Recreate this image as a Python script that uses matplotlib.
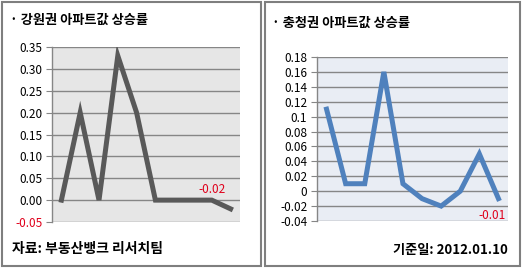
import numpy as np
import matplotlib
matplotlib.use('Agg')
import matplotlib.pyplot as plt
from matplotlib.patches import Rectangle

plt.rcParams['font.family'] = ['Noto Sans CJK KR', 'DejaVu Sans']

# 데이터
gw_title = '· 강원권 아파트값 상승률'
gw_vals = [0, 0.2, 0, 0.33, 0.2, 0, 0, 0, 0, -0.02]
gw_ticks = [-0.05, 0, 0.05, 0.10, 0.15, 0.20, 0.25, 0.30, 0.35]
gw_ticklabels = ['-0.05', '0.00', '0.05', '0.10', '0.15', '0.20', '0.25', '0.30', '0.35']

cc_title = '· 충청권 아파트값 상승률'
cc_vals = [0.11, 0.01, 0.01, 0.16, 0.01, -0.01, -0.02, 0, 0.05, -0.01]
cc_ticks = [-0.04, -0.02, 0, 0.02, 0.04, 0.06, 0.08, 0.1, 0.12, 0.14, 0.16, 0.18]
cc_ticklabels = ['-0.04', '-0.02', '0', '0.02', '0.04', '0.06', '0.08', '0.1',
                 '0.12', '0.14', '0.16', '0.18']

source_text = '자료: 부동산뱅크 리서치팀'
date_text = '기준일: 2012.01.10'

W, H = 527, 270
fig = plt.figure(figsize=(W / 100, H / 100), dpi=100)


def px_axes(x0, y0, x1, y1):
    # 픽셀 좌표(위에서부터)로 축 만들기
    return fig.add_axes([x0 / W, (H - y1) / H, (x1 - x0) / W, (y1 - y0) / H])


def panel(x0, y0, x1, y1):
    fig.add_artist(Rectangle((x0 / W, (H - y1) / H), (x1 - x0) / W, (y1 - y0) / H,
                             transform=fig.transFigure, fill=False,
                             edgecolor='#7f7f7f', linewidth=1.5))


def draw(ax, vals, ticks, labels, ylim, color, bg, red_tick=False):
    x = np.arange(len(vals))
    ax.set_facecolor(bg)
    ax.plot(x, vals, color=color, linewidth=3.6, solid_joinstyle='miter', zorder=3)
    ax.set_xlim(-0.5, len(vals) - 0.5)
    ax.set_ylim(*ylim)
    ax.set_yticks(ticks)
    ax.set_yticklabels(labels, fontsize=8.5)
    ax.set_xticks([])
    ax.grid(axis='y', color='#868686', linewidth=1)
    ax.set_axisbelow(True)
    for s in ['top', 'right', 'bottom']:
        ax.spines[s].set_visible(False)
    ax.spines['left'].set_color('#868686')
    ax.spines['left'].set_linewidth(1)
    ax.tick_params(axis='y', length=4, color='#868686', pad=3)
    if red_tick:
        ax.get_yticklabels()[0].set_color('#e0001b')


panel(1.5, 1.5, 261, 266)
panel(265, 1.5, 520, 266)

ax1 = px_axes(52, 47, 240, 222)
draw(ax1, gw_vals, gw_ticks, gw_ticklabels, (-0.05, 0.35), '#595959', '#e6e6e6', red_tick=True)
ax1.annotate('-0.02', (8, 0), xytext=(0, 8), textcoords='offset points',
             ha='center', va='center', fontsize=8.5, color='#e0001b')

ax2 = px_axes(317, 57, 508, 221)
draw(ax2, cc_vals, cc_ticks, cc_ticklabels, (-0.04, 0.18), '#4f81bd', '#e9edf4')
ax2.annotate('-0.01', (8.65, -0.01), xytext=(0, -12), textcoords='offset points',
             ha='center', va='center', fontsize=8.5, color='#e0001b')

fig.text(10 / W, 1 - 20 / H, gw_title, fontsize=9.5, fontweight='bold', va='center', ha='left')
fig.text(272 / W, 1 - 23 / H, cc_title, fontsize=9.5, fontweight='bold', va='center', ha='left')
fig.text(12 / W, 1 - 249 / H, source_text, fontsize=10, fontweight='bold', va='center', ha='left')
fig.text(508 / W, 1 - 250 / H, date_text, fontsize=9.5, fontweight='bold', va='center', ha='right')

fig.savefig('out.png', dpi=100)
